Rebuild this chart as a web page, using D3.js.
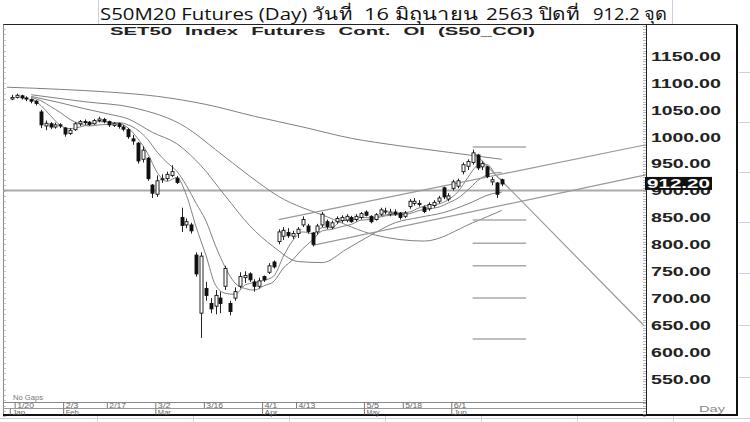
<!DOCTYPE html>
<html><head><meta charset="utf-8">
<script src="https://cdn.jsdelivr.net/npm/d3@7"></script>
<style>body{margin:0;background:#fff;overflow:hidden}</style>
</head><body><svg id="c" width="750" height="422"></svg>
<script>
// ---------- DATA ----------
const dates = ["1/17","1/20","1/21","1/22","1/23","1/24","1/27","1/28","1/29","1/30","1/31",
"2/3","2/4","2/5","2/6","2/7","2/11","2/12","2/13","2/14","2/17","2/18","2/19","2/20","2/21","2/24","2/25","2/26","2/27","2/28",
"3/2","3/3","3/4","3/5","3/6","3/9","3/10","3/11","3/12","3/13","3/16","3/17","3/18","3/19","3/20","3/23","3/24","3/25","3/26","3/27","3/30","3/31",
"4/1","4/2","4/3","4/7","4/8","4/9","4/10","4/13","4/14","4/15","4/16","4/17","4/20","4/21","4/22","4/23","4/24","4/27","4/28","4/29","4/30",
"5/5","5/7","5/8","5/11","5/12","5/13","5/14","5/15","5/18","5/19","5/20","5/21","5/22","5/25","5/26","5/27","5/28","5/29",
"6/1","6/2","6/4","6/5","6/8","6/9","6/10","6/11","6/12","6/15","6/16"];
const open  = [1070,1073,1076,1072,1069,1066,1046,1020,1024,1018,1022,1016,1006,1013,1024,1028,1027,1024,1030,1032,1028,1021,1024,1018,1013,996,988,958,960,910,
893,920,922,928,923,850,836,836,780,672,718,690,685,700,722,690,700,722,738,745,730,722,740,748,767,805,815,822,815,820,836,834,821,823,836,842,832,842,844,845,850,846,850,
860,852,846,856,860,856,860,858,852,870,876,876,869,866,872,880,905,884,904,908,935,945,952,966,944,944,916,914,920];
const high  = [1078,1080,1078,1075,1071,1068,1050,1030,1027,1026,1025,1018,1016,1027,1031,1032,1029,1033,1037,1035,1030,1027,1026,1022,1016,1003,990,982,962,912,
928,930,935,947,927,868,848,840,785,785,730,700,715,712,760,695,720,748,750,748,735,738,742,765,770,828,832,830,825,832,852,838,823,838,860,846,844,852,854,856,853,856,860,
863,854,858,868,868,866,865,860,862,884,886,882,872,878,882,890,907,895,920,922,952,958,976,968,954,946,925,916,922];
const low   = [1068,1071,1069,1066,1062,1058,1016,1012,1014,1015,1016,1000,1003,1011,1020,1022,1020,1022,1027,1025,1018,1018,1015,1010,996,985,950,952,918,886,
888,914,918,925,912,823,830,820,740,626,695,672,670,672,715,668,695,718,728,730,712,718,730,745,755,800,808,812,810,812,832,820,796,818,832,828,828,838,840,841,840,842,846,
852,839,844,853,856,852,853,846,849,866,872,870,858,862,868,876,884,880,900,904,930,938,948,938,938,923,910,886,908];
const close = [1073,1077,1072,1070,1066,1062,1022,1025,1018,1022,1020,1005,1012,1024,1028,1026,1023,1030,1033,1028,1022,1024,1019,1014,1000,992,955,975,922,895,
918,922,930,935,915,835,842,825,745,778,705,680,705,690,755,675,712,740,742,734,722,732,734,760,758,823,826,816,820,828,846,824,800,834,856,833,840,848,850,852,842,852,857,
854,842,855,864,862,860,856,850,858,880,880,876,861,874,878,886,888,890,916,918,948,954,970,942,950,926,920,893,912.2];

const ma5Idx = [4,6,8,10,12,14,16,18,20,22,24,26,28,30,32,34,36,38,40,42,44,46,48,50,52,54,56,58,60,62,64,66,68,70,72,74,76,78,80,82,84,86,88,90,92,94,96,98,100,101];
const ma5  = [1072,1058,1039,1021,1015,1018,1023,1028,1027,1025,1016,996,969,933,917,924,891,832,780,724,709,707,724,729,733,741,778,808,823,820,831,831,844,845,850,849,853,856,858,860,868,873,875,883,898,924,946,948,926,920];
const ma10 = [1073,1067,1056,1045,1032,1024,1020,1022,1023,1026,1022,1012,995,971,952,936,909,876,844,797,757,728,718,715,723,731,756,772,792,808,825,828,833,837,845,846,851,854,855,857,863,866,869,877,886,901,918,929,933,933];
const ma25Idx = [4,10,15,20,24,29,34,39,44,49,54,59,64,69,74,79,84,89,94,99,101];
const ma25 = [1075,1063,1052,1042,1033,1008,987,946,890,835,795,768,766,791,817,840,850,859,875,894,897];
const ma50Idx = [4,15,25,36,42,49,55,65,75,85,95,101];
const ma50 = [1078,1065,1054,1017,976,927,889,851,817,806,840,863];
const ma200Idx = [-1,10,20,30,40,50,60,70,80,90,101];
const ma200 = [1092,1088,1083,1075,1060,1038,1018,997,983,971,958];

const supportLevel = 900;
const fibLevels = [981,845,802,760,700,624];
const fibSpan = [95,106];
const channelUpper = [[55,846],[130.7,985]];
const channelLower = [[62,798],[130.7,929]];
const downTrend = [[95.3,970],[130.2,650]];

const yTicks = [550,600,650,700,750,800,850,900,950,1000,1050,1100,1150];
const dateTicks = ["1/20","2/3","2/17","3/2","3/16","4/1","4/13","5/5","5/18","6/1"];
const monthTicks = ["1/17","2/3","3/2","4/1","5/5","6/1"];
const monthNames = ["Jan","Feb","Mar","Apr","May","Jun"];
const lastPrice = 912.20;

// ---------- CHART ----------
const svg = d3.select("#c");
const x = d3.scaleLinear().domain([0,101]).range([11.8,501.8]);
const y = d3.scaleLinear().domain([550,1150]).range([378.8,56]);
const P = {l:3, r:646, t:24.5, b:402};
const gridC = "#c9d3df";

// excel grid
const eg = svg.append("g").attr("stroke",gridC).attr("stroke-width",1);
[98,672].forEach(v=>eg.append("line").attr("x1",v+.5).attr("x2",v+.5).attr("y1",0).attr("y2",24));
eg.append("line").attr("x1",0).attr("x2",750).attr("y1",418.5).attr("y2",418.5);
[97,193,289,385,481,577,673].forEach(v=>eg.append("line").attr("x1",v+.5).attr("x2",v+.5).attr("y1",416).attr("y2",422));
[72,122,172,222,273,325,377].forEach(v=>eg.append("line").attr("x1",739).attr("x2",750).attr("y1",v+.5).attr("y2",v+.5));

// title
const tf = "'Open Sans','Noto Sans','DejaVu Sans',sans-serif";
const titleParts = [["S50M20 Futures (Day) วันที่",100,252],["16 มิถุนายน",364,114],["2563 ปิดที่",486,93],["912.2 จุด",593,74]];
titleParts.forEach(p=>svg.append("text").attr("x",p[1]).attr("y",20).attr("font-family",tf).attr("font-size",17)
  .attr("fill","#111").attr("textLength",p[2]).attr("lengthAdjust","spacingAndGlyphs").text(p[0]));

// frame
const fr = svg.append("g").attr("fill","none");
fr.append("line").attr("x1",P.l).attr("x2",737).attr("y1",P.t).attr("y2",P.t).attr("stroke","#222");
fr.append("line").attr("x1",P.l+.5).attr("x2",P.l+.5).attr("y1",P.t).attr("y2",415).attr("stroke","#888");
fr.append("line").attr("x1",P.r+.5).attr("x2",P.r+.5).attr("y1",P.t).attr("y2",415).attr("stroke","#222");
fr.append("line").attr("x1",737).attr("x2",737).attr("y1",P.t).attr("y2",416).attr("stroke","#111").attr("stroke-width",2);
fr.append("line").attr("x1",P.l).attr("x2",P.r).attr("y1",P.b+.5).attr("y2",P.b+.5).attr("stroke","#888");
fr.append("line").attr("x1",P.l).attr("x2",P.r).attr("y1",408.5).attr("y2",408.5).attr("stroke","#999");
fr.append("line").attr("x1",P.l).attr("x2",738).attr("y1",415).attr("y2",415).attr("stroke","#111").attr("stroke-width",2);

// subtitle
svg.append("text").attr("x",110).attr("y",35).attr("font-family","'Liberation Sans',Arial,sans-serif").attr("font-weight","bold")
  .attr("font-size",11).attr("fill","#222").attr("textLength",425).attr("lengthAdjust","spacingAndGlyphs").attr("word-spacing",4)
  .text("SET50 Index Futures Cont. OI (S50_COI)");

// ruler ticks
const rt = d3.range(480,1210,5);
svg.append("g").selectAll("line").data(rt).join("line")
  .attr("x1",P.r-3).attr("x2",P.r).attr("y1",d=>Math.round(y(d))+.5).attr("y2",d=>Math.round(y(d))+.5)
  .attr("stroke","#999").attr("stroke-width",.7);
svg.append("g").selectAll("line").data(d3.range(480,1210,10)).join("line")
  .attr("x1",P.l).attr("x2",P.l+3).attr("y1",d=>Math.round(y(d))+.5).attr("y2",d=>Math.round(y(d))+.5)
  .attr("stroke","#aaa").attr("stroke-width",.7);

// clip
svg.append("clipPath").attr("id","pc").append("rect").attr("x",P.l+1).attr("y",P.t+1).attr("width",P.r-P.l-1).attr("height",P.b-P.t-1);
const g = svg.append("g").attr("clip-path","url(#pc)");

// support line
g.append("line").attr("x1",P.l).attr("x2",P.r).attr("y1",y(supportLevel)).attr("y2",y(supportLevel)).attr("stroke","#aaa").attr("stroke-width",2);

// moving averages
const line = d3.line().x(d=>x(d[0])).y(d=>y(d[1])).curve(d3.curveMonotoneX);
const mas = [[ma5Idx,ma5],[ma5Idx,ma10],[ma25Idx,ma25],[ma50Idx,ma50],[ma200Idx,ma200]];
mas.forEach(m=>g.append("path").attr("d",line(m[0].map((i,k)=>[i,m[1][k]]))).attr("fill","none").attr("stroke","#808080").attr("stroke-width",1));

// trend lines
const sl = d3.line().x(d=>x(d[0])).y(d=>y(d[1]));
[channelUpper,channelLower,downTrend].forEach(t=>g.append("path").attr("d",sl(t)).attr("stroke","#999").attr("stroke-width",1.2).attr("fill","none"));
// fib levels
g.append("g").selectAll("line").data(fibLevels).join("line")
  .attr("x1",x(fibSpan[0])).attr("x2",x(fibSpan[1])).attr("y1",d=>y(d)).attr("y2",d=>y(d)).attr("stroke","#aaa").attr("stroke-width",1.5);

// candles
const idx = d3.range(dates.length);
const cg = g.append("g");
cg.selectAll("line").data(idx).join("line")
  .attr("x1",i=>Math.round(x(i))+.5).attr("x2",i=>Math.round(x(i))+.5).attr("y1",i=>y(high[i])).attr("y2",i=>y(low[i]))
  .attr("stroke","#222").attr("stroke-width",1);
cg.selectAll("rect").data(idx).join("rect")
  .attr("x",i=>Math.round(x(i))-1).attr("width",3)
  .attr("y",i=>y(Math.max(open[i],close[i]))).attr("height",i=>Math.max(1,Math.abs(y(open[i])-y(close[i]))))
  .attr("fill",i=>close[i]<open[i]?"#111":"#fff").attr("stroke","#111").attr("stroke-width",.9);

// y axis labels
const yAxis = d3.axisRight(y).tickValues(yTicks).tickFormat(d3.format(".2f")).tickSize(0).tickPadding(0);
const gy = svg.append("g").attr("transform",`translate(651,0)`).call(yAxis);
gy.select(".domain").remove();
gy.selectAll("text").attr("font-family","'Liberation Sans',Arial,sans-serif").attr("font-weight","bold").attr("font-size",12)
  .attr("fill","#222").attr("dy","0.36em").attr("textLength",function(){return this.textContent.length*10;}).attr("lengthAdjust","spacingAndGlyphs");

// last price box
svg.append("rect").attr("x",645).attr("y",y(lastPrice)-7).attr("width",67).attr("height",13).attr("fill","#111");
svg.append("text").attr("x",647).attr("y",y(lastPrice)-0.5).attr("dy","0.36em").attr("font-family","'Liberation Sans',Arial,sans-serif")
  .attr("font-weight","bold").attr("font-size",12).attr("fill","#fff").attr("textLength",63).attr("lengthAdjust","spacingAndGlyphs").text(lastPrice.toFixed(2));

// x axis (dates)
const sf = "'Liberation Sans',Arial,sans-serif";
const xAxis = d3.axisBottom(x).tickValues(dateTicks.map(d=>dates.indexOf(d))).tickFormat(i=>dates[i]).tickSize(6).tickSizeOuter(0).tickPadding(0);
const gx = svg.append("g").attr("transform",`translate(-2,${P.b})`).call(xAxis);
gx.select(".domain").remove();
gx.selectAll("line").attr("stroke","#777");
gx.selectAll("text").attr("text-anchor","start").attr("dx",2).attr("dy",0).attr("y",5.6).attr("font-family",sf).attr("font-size",6.5).attr("fill","#666")
  .attr("textLength",function(){return this.textContent.length*4.2;}).attr("lengthAdjust","spacingAndGlyphs");
const mAxis = d3.axisBottom(x).tickValues(monthTicks.map(d=>dates.indexOf(d))).tickFormat((i,k)=>monthNames[k]).tickSize(6).tickSizeOuter(0).tickPadding(0);
const gm = svg.append("g").attr("transform",`translate(-2,408.5)`).call(mAxis);
gm.select(".domain").remove();
gm.selectAll("line").attr("stroke","#777");
gm.selectAll("text").attr("text-anchor","start").attr("dx",2).attr("dy",0).attr("y",6.2).attr("font-family",sf).attr("font-size",6.5).attr("fill","#666")
  .attr("textLength",13).attr("lengthAdjust","spacingAndGlyphs");

svg.append("text").attr("x",13).attr("y",400).attr("font-family",sf).attr("font-size",6.5).attr("fill","#777").attr("textLength",30).attr("lengthAdjust","spacingAndGlyphs").text("No Gaps");
svg.append("text").attr("x",699).attr("y",412).attr("font-family",sf).attr("font-size",8.5).attr("fill","#888").attr("textLength",26).attr("lengthAdjust","spacingAndGlyphs").text("Day");
</script></body></html>
